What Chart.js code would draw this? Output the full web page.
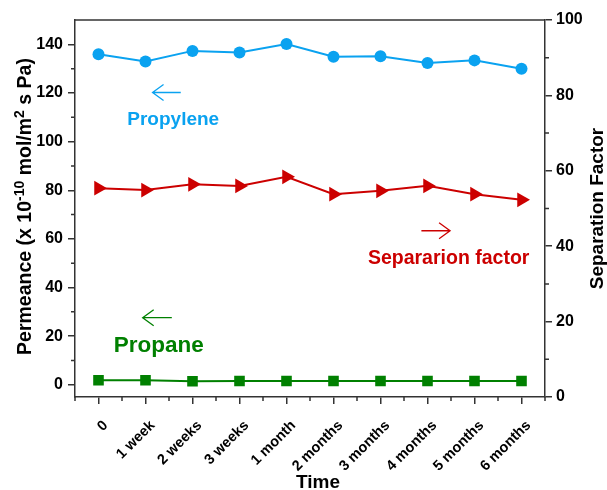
<!DOCTYPE html>
<html><head><meta charset="utf-8">
<script src="https://cdn.jsdelivr.net/npm/chart.js@4/dist/chart.umd.min.js"></script>
<style>html,body{margin:0;padding:0;background:#fff}</style>
</head><body>
<canvas id="c" width="607" height="490"></canvas>
<script>
const categories = ['0','1 week','2 weeks','3 weeks','1 month','2 months','3 months','4 months','5 months','6 months'];
const propylene = [135.9,132.9,137.3,136.6,140.1,134.9,135.1,132.3,133.4,130.0];
const propane = [1.9,1.9,1.5,1.6,1.6,1.6,1.6,1.6,1.6,1.6];
const separation = [55.4,54.9,56.4,56.0,58.4,53.8,54.7,56.0,53.8,52.3];
const leftTicks = [0,20,40,60,80,100,120,140];
const rightTicks = [0,20,40,60,80,100];

const BLUE = '#0aa2f0', RED = '#cc0000', GREEN = '#008000', AX = '#333333';
const FONT = 'Liberation Sans, Arial, sans-serif';

// annotations in data coordinates (x = category index, y = value on given axis)
const notes = [
  {text:'Propylene', x:1.59, y:107, axis:'y', color:BLUE, size:19},
  {text:'Propane', x:1.28, y:13.7, axis:'y', color:GREEN, size:22.5},
  {text:'Separarion factor', x:7.45, y:35.3, axis:'y2', color:RED, size:19.5}
];
const arrows = [
  {x1:1.15, x2:1.75, y:120.2, axis:'y', dir:-1, color:BLUE},
  {x1:0.94, x2:1.56, y:27.6, axis:'y', dir:-1, color:GREEN},
  {x1:6.87, x2:7.48, y:44.1, axis:'y2', dir:1, color:RED}
];

const deco = {
  id:'deco',
  afterDraw(chart){
    const ctx = chart.ctx, a = chart.chartArea;
    const xs = chart.scales.x, yl = chart.scales.y, yr = chart.scales.y2;
    ctx.save();
    ctx.strokeStyle = AX; ctx.lineWidth = 1.5;
    ctx.beginPath(); ctx.moveTo(a.left, a.top); ctx.lineTo(a.right, a.top); ctx.stroke();
    // minor ticks
    ctx.beginPath();
    for (let i = 0; i <= categories.length; i++) {
      const px = xs.getPixelForValue(i - 0.5);
      ctx.moveTo(px, a.bottom); ctx.lineTo(px, a.bottom + 4);
    }
    for (let v = 10; v <= 130; v += 20) {
      const py = yl.getPixelForValue(v);
      ctx.moveTo(a.left, py); ctx.lineTo(a.left - 4, py);
    }
    for (let v = 10; v <= 90; v += 20) {
      const py = yr.getPixelForValue(v);
      ctx.moveTo(a.right, py); ctx.lineTo(a.right + 4, py);
    }
    ctx.stroke();
    // annotations
    notes.forEach(n => {
      ctx.fillStyle = n.color;
      ctx.font = 'bold ' + n.size + 'px ' + FONT;
      ctx.textAlign = 'center'; ctx.textBaseline = 'alphabetic';
      ctx.fillText(n.text, xs.getPixelForValue(n.x), chart.scales[n.axis].getPixelForValue(n.y));
    });
    arrows.forEach(r => {
      const x1 = xs.getPixelForValue(r.x1), x2 = xs.getPixelForValue(r.x2);
      const py = chart.scales[r.axis].getPixelForValue(r.y);
      ctx.strokeStyle = r.color; ctx.lineWidth = 1.3;
      ctx.beginPath(); ctx.moveTo(x1, py); ctx.lineTo(x2, py);
      const tip = r.dir < 0 ? x1 : x2, back = tip - r.dir * 11;
      ctx.moveTo(back, py - 8); ctx.lineTo(tip, py); ctx.lineTo(back, py + 8);
      ctx.stroke();
    });
    // axis titles
    ctx.fillStyle = '#000';
    ctx.textBaseline = 'alphabetic';
    // left title with superscripts
    const parts = [
      ['Permeance (x 10', 0], ['-10', 1], [' mol/m', 0], ['2', 1], [' s Pa)', 0]
    ];
    const big = 19.5, small = 14;
    let total = 0;
    parts.forEach(p => { ctx.font = 'bold ' + (p[1] ? small : big) + 'px ' + FONT; total += ctx.measureText(p[0]).width; });
    ctx.save();
    ctx.translate(31, (a.top + a.bottom) / 2 - 2);
    ctx.rotate(-Math.PI / 2);
    let cx = -total / 2;
    ctx.textAlign = 'left';
    parts.forEach(p => {
      ctx.font = 'bold ' + (p[1] ? small : big) + 'px ' + FONT;
      ctx.fillText(p[0], cx, p[1] ? -7.5 : 0);
      cx += ctx.measureText(p[0]).width;
    });
    ctx.restore();
    // right title
    ctx.save();
    ctx.font = 'bold 19px ' + FONT;
    ctx.textAlign = 'center';
    ctx.translate(603, (a.top + a.bottom) / 2);
    ctx.rotate(-Math.PI / 2);
    ctx.fillText('Separation Factor', 0, 0);
    ctx.restore();
    // bottom title
    ctx.font = 'bold 19px ' + FONT;
    ctx.textAlign = 'center';
    ctx.fillText('Time', (a.left + a.right) / 2 + 8, 488);
    ctx.restore();
  }
};

new Chart(document.getElementById('c'), {
  type: 'line',
  data: {
    labels: categories,
    datasets: [
      {label:'Propylene', data:propylene, yAxisID:'y', borderColor:BLUE, backgroundColor:BLUE,
        borderWidth:2, pointStyle:'circle', pointRadius:6, pointBorderWidth:0},
      {label:'Propane', data:propane, yAxisID:'y', borderColor:GREEN, backgroundColor:GREEN,
        borderWidth:2, pointStyle:'rect', pointRadius:7.5, pointBorderWidth:0},
      {label:'Separation factor', data:separation, yAxisID:'y2', borderColor:RED, backgroundColor:RED,
        borderWidth:2, pointStyle:'triangle', rotation:90, pointRadius:8.5, pointBorderWidth:0}
    ]
  },
  options: {
    responsive:false, animation:false,
    layout:{padding:{top:20}},
    plugins:{legend:{display:false}, tooltip:{enabled:false}},
    scales:{
      x:{
        offset:true,
        grid:{display:true, drawOnChartArea:false, tickLength:7, color:AX, lineWidth:1.5, offset:false},
        border:{color:AX, width:1.5},
        ticks:{color:'#000', font:{family:FONT, size:14.5, weight:'bold'}, maxRotation:45, minRotation:45, padding:13, labelOffset:7},
        afterFit(s){ s.height = 93; }
      },
      y:{
        position:'left', min:-5, max:150,
        afterBuildTicks(s){ s.ticks = leftTicks.map(v => ({value:v})); },
        grid:{drawOnChartArea:false, tickLength:7, color:AX, lineWidth:1.5},
        border:{color:AX, width:1.5},
        ticks:{color:'#000', font:{family:FONT, size:16, weight:'bold'}, padding:5},
        afterFit(s){ s.width = 75; }
      },
      y2:{
        position:'right', min:0, max:100,
        afterBuildTicks(s){ s.ticks = rightTicks.map(v => ({value:v})); },
        grid:{drawOnChartArea:false, tickLength:7, color:AX, lineWidth:1.5},
        border:{color:AX, width:1.5},
        ticks:{color:'#000', font:{family:FONT, size:16, weight:'bold'}, padding:4},
        afterFit(s){ s.width = 62; }
      }
    }
  },
  plugins:[deco]
});
</script>
</body></html>
